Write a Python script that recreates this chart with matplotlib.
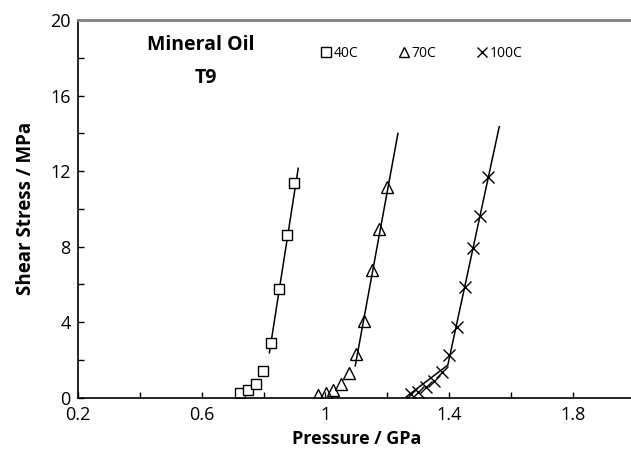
"""
Shear stress vs pressure, mineral oil T9 at three temperatures
"""
import numpy as np
import matplotlib.pyplot as plt
from matplotlib.ticker import MultipleLocator, FuncFormatter

plt.rcParams['font.family'] = ['Open Sans', 'DejaVu Sans']

# measured points (pressure GPa, shear stress MPa)
p_40 = [0.724, 0.749, 0.775, 0.799, 0.824, 0.849, 0.875, 0.899]
s_40 = [0.23, 0.41, 0.73, 1.43, 2.91, 5.74, 8.60, 11.38]

p_70 = [0.977, 1.001, 1.025, 1.050, 1.075, 1.099, 1.124, 1.149, 1.174, 1.200]
s_70 = [0.14, 0.23, 0.41, 0.73, 1.32, 2.31, 4.08, 6.76, 8.92, 11.17]

p_100 = [1.275, 1.300, 1.324, 1.349, 1.375, 1.400, 1.425, 1.450, 1.475, 1.499, 1.526]
s_100 = [0.20, 0.32, 0.55, 0.90, 1.38, 2.26, 3.73, 5.85, 7.91, 9.64, 11.67]

# fitted lines (end points)
fit_p_40 = [0.819, 0.912]
fit_s_40 = [2.38, 12.15]
fit_p_70 = [1.096, 1.234]
fit_s_70 = [1.68, 14.0]
fit_p_100 = [1.261, 1.395, 1.561]
fit_s_100 = [0.05, 1.73, 14.35]

fig = plt.figure(figsize=(6.31, 4.5), dpi=100)
ax = fig.add_axes([0.1231, 0.1162, 0.8836, 0.8393])

#fit lines
ax.plot(fit_p_40, fit_s_40, '-', color='black', lw=1.1)
ax.plot(fit_p_70, fit_s_70, '-', color='black', lw=1.1)
ax.plot(fit_p_100, fit_s_100, '-', color='black', lw=1.1)

#markers
ax.plot(p_40, s_40, 's', ms=7.8, mfc='white', mec='black', mew=1.0, ls='none', label='40C')
ax.plot(p_70, s_70, '^', ms=8.5, mfc='none', mec='black', mew=1.0, ls='none', label='70C')
ax.plot(p_100, s_100, 'x', ms=8.5, color='black', mew=1.0, ls='none', label='100C')

ax.set_xlim(0.2, 2.0)
ax.set_ylim(0, 20)
ax.xaxis.set_major_locator(MultipleLocator(0.2))
ax.yaxis.set_major_locator(MultipleLocator(2))

def xfmt(v, pos):
    k = int(round((v - 0.2) / 0.2))
    if k % 2 != 0 or v > 1.85:
        return ''
    return f'{v:g}'

def yfmt(v, pos):
    k = int(round(v))
    return f'{k}' if k % 4 == 0 else ''

ax.xaxis.set_major_formatter(FuncFormatter(xfmt))
ax.yaxis.set_major_formatter(FuncFormatter(yfmt))
ax.tick_params(direction='in', length=4, width=1, labelsize=13, colors='black')
ax.tick_params(axis='x', pad=6)
ax.tick_params(axis='y', pad=5)

ax.spines['right'].set_visible(False)
ax.spines['top'].set_color('#808080')
ax.spines['top'].set_linewidth(2)
ax.spines['left'].set_linewidth(1.2)
ax.spines['bottom'].set_linewidth(1.2)

ax.set_xlabel('Pressure / GPa', fontsize=13, fontweight='bold', labelpad=4)
ax.set_ylabel('Shear Stress / MPa', fontsize=13.5, fontweight='bold', labelpad=10)

fig.text(201 / 631, 1 - 45 / 450, 'Mineral Oil', fontsize=14, fontweight='bold',
         ha='center', va='center')
fig.text(206 / 631, 1 - 78 / 450, 'T9', fontsize=14, fontweight='bold',
         ha='center', va='center')

ax.legend(loc='upper left', bbox_to_anchor=(0.415, 0.965), ncol=3, frameon=False,
          fontsize=10, handlelength=0.6, handletextpad=0.25, columnspacing=3.0,
          markerscale=0.9)

fig.savefig('out.png', dpi=100)
